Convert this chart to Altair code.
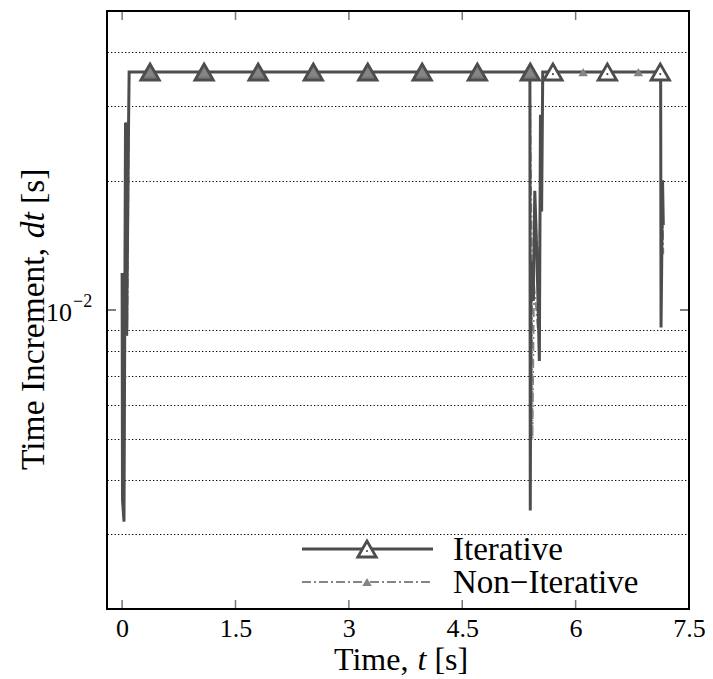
import altair as alt
import pandas as pd
import numpy as np

# ---------------- data ----------------
iter_t = [0.0, 0.005, 0.025, 0.045, 0.06, 0.085, 0.093, 5.395, 5.40, 5.41, 5.44, 5.46,
          5.49, 5.52, 5.535, 5.55, 5.565, 7.125, 7.13, 7.14, 7.15, 7.16]
iter_dt = [0.0122, 0.0036, 0.0032, 0.0274, 0.0087, 0.027, 0.036, 0.036, 0.0034, 0.013,
           0.0105, 0.019, 0.013, 0.0076, 0.0286, 0.017, 0.036, 0.036, 0.0091, 0.0134,
           0.0201, 0.0158]

non_t = [0.0, 0.01, 0.03, 0.05, 0.07, 0.088, 0.093, 5.395, 5.42, 5.43, 5.45, 5.50,
         5.54, 5.565, 7.125, 7.135, 7.15, 7.16]
non_dt = [0.011, 0.0033, 0.0095, 0.0275, 0.009, 0.026, 0.036, 0.036, 0.0136, 0.0050,
          0.0115, 0.009, 0.022, 0.036, 0.036, 0.011, 0.019, 0.0135]

iter_mark_t = [0.37, 1.085, 1.80, 2.53, 3.25, 3.97, 4.70, 5.40, 5.70, 6.42, 7.12]
iter_mark_dt = [0.036, 0.036, 0.036, 0.036, 0.036, 0.036, 0.036, 0.036, 0.036, 0.036, 0.036]
non_mark_t = [0.37, 1.085, 1.80, 2.53, 3.25, 3.97, 4.70, 5.40, 6.10, 6.83]
non_mark_dt = [0.036, 0.036, 0.036, 0.036, 0.036, 0.036, 0.036, 0.036, 0.036, 0.036]

x_ticks = [0, 1.5, 3, 4.5, 6, 7.5]
y_major = [0.01]
y_minor = [0.003, 0.004, 0.005, 0.006, 0.007, 0.008, 0.009, 0.02, 0.03, 0.04]

# ---------------- styling ----------------
W, H = 582, 598
FONT = "Liberation Serif"
DARK = "#4d4d4d"
LIGHT = "#858585"

xs = alt.Scale(domain=[-0.2, 7.5], nice=False, zero=False)
ys = alt.Scale(type="log", domain=[0.002, 0.05], nice=False)

iter_df = pd.DataFrame({"t": iter_t, "dt": iter_dt, "o": range(len(iter_t))})
non_df = pd.DataFrame({"t": non_t, "dt": non_dt, "o": range(len(non_t))})
im_df = pd.DataFrame({"t": iter_mark_t, "dt": iter_mark_dt})
im_df["fill"] = np.where(np.isin(iter_mark_t, non_mark_t), "#7a7a7a", "white")
nm_df = pd.DataFrame({"t": non_mark_t, "dt": non_mark_dt})
one = pd.DataFrame({"a": [0]})

X = alt.X("t:Q", scale=xs,
          axis=alt.Axis(values=x_ticks, format="~g", title=None, ticks=False, domain=False,
                        grid=False, labelFont=FONT, labelFontSize=26, labelColor="black",
                        labelPadding=6, labelFlush=False))
Y = alt.Y("dt:Q", scale=ys,
          axis=alt.Axis(values=y_minor, title=None, labels=False, ticks=False, domain=False,
                        grid=True, gridColor="black", gridDash=[1.3, 2.2], gridWidth=1.2,
                        gridOpacity=1))

non_line = alt.Chart(non_df).mark_line(color=LIGHT, strokeWidth=1.8,
                                       strokeDash=[9, 3, 2, 3]).encode(x=X, y=Y, order="o:Q")
iter_line = alt.Chart(iter_df).mark_line(color=DARK, strokeWidth=3).encode(
    x=alt.X("t:Q", scale=xs), y=alt.Y("dt:Q", scale=ys), order="o:Q")

iter_marks = alt.Chart(im_df).mark_point(shape="triangle-up", size=340, strokeWidth=2.8,
                                         stroke=DARK, opacity=1, filled=False).encode(
    x=alt.X("t:Q", scale=xs), y=alt.Y("dt:Q", scale=ys),
    fill=alt.Fill("fill:N", scale=None))
iter_dots = alt.Chart(im_df[im_df["fill"] == "white"]).mark_point(
    shape="circle", size=5, filled=True, color=DARK, opacity=1).encode(
    x=alt.X("t:Q", scale=xs), y=alt.Y("dt:Q", scale=ys), yOffset=alt.value(2))
non_marks = alt.Chart(nm_df).mark_point(shape="triangle-up", size=90, filled=True,
                                        color=LIGHT, opacity=1).encode(
    x=alt.X("t:Q", scale=xs), y=alt.Y("dt:Q", scale=ys))

# inward ticks (frame ticks)
xt_df = pd.DataFrame({"t": x_ticks[:-1]})
tick_bottom = alt.Chart(xt_df).mark_rule(color="#777777", strokeWidth=1.5).encode(
    x=alt.X("t:Q", scale=xs), y=alt.value(H), y2=alt.value(H - 9))
tick_top = alt.Chart(xt_df).mark_rule(color="#777777", strokeWidth=1.5).encode(
    x=alt.X("t:Q", scale=xs), y=alt.value(0), y2=alt.value(9))
yt_df = pd.DataFrame({"dt": y_major})
tick_left = alt.Chart(yt_df).mark_rule(color="#555555", strokeWidth=1.5).encode(
    y=alt.Y("dt:Q", scale=ys), x=alt.value(0), x2=alt.value(9))
tick_right = alt.Chart(yt_df).mark_rule(color="#555555", strokeWidth=1.5).encode(
    y=alt.Y("dt:Q", scale=ys), x=alt.value(W - 9), x2=alt.value(W))

# frame
frame = alt.Chart(one).mark_rect(fill=None, stroke="black", strokeWidth=2).encode(
    x=alt.value(0), x2=alt.value(W), y=alt.value(0), y2=alt.value(H))

# y tick label 10^-2
lab10 = alt.Chart(yt_df).mark_text(font=FONT, fontSize=26, align="right", baseline="middle",
                                   dy=3, color="black").encode(
    y=alt.Y("dt:Q", scale=ys), x=alt.value(-35), text=alt.value("10"))
labexp = alt.Chart(yt_df).mark_text(font=FONT, fontSize=18, align="left", baseline="middle",
                                    dy=-8, color="black").encode(
    y=alt.Y("dt:Q", scale=ys), x=alt.value(-34), text=alt.value("\u22122"))

# axis titles with italic symbols
def txt(s, x, y, italic=False, angle=0, size=32, align="left", baseline="alphabetic"):
    kw = dict(font=FONT, fontSize=size, align=align, baseline=baseline, color="black")
    if italic:
        kw["fontStyle"] = "italic"
    if angle:
        kw["angle"] = angle
    return alt.Chart(one).mark_text(**kw).encode(x=alt.value(x), y=alt.value(y),
                                                 text=alt.value(s))

fs = 32
xt0 = 227
xb = 659
xtitle = [txt("Time,", xt0, xb, size=fs),
          txt("t", xt0 + 2.611 * fs, xb, italic=True, size=fs),
          txt("[s]", xt0 + (2.611 + 0.278 + 0.25) * fs, xb, size=fs)]
fy = 33.5
yb = 459
yx = -73
ytitle = [txt("Time Increment,", yx, yb, angle=270, baseline="middle", size=fy),
          txt("dt", yx, yb - 6.915 * fy, italic=True, angle=270, baseline="middle", size=fy),
          txt("[s]", yx, yb - (6.915 + 0.778 + 0.25) * fy, angle=270, baseline="middle",
              size=fy)]

# legend
leg_l1 = alt.Chart(one).mark_rule(color=DARK, strokeWidth=3).encode(
    x=alt.value(195), x2=alt.value(326), y=alt.value(538))
leg_m1 = alt.Chart(one).mark_point(shape="triangle-up", size=340, strokeWidth=2.8, stroke=DARK,
                                   fill="white", opacity=1).encode(
    x=alt.value(260), y=alt.value(538))
leg_d1 = alt.Chart(one).mark_point(shape="circle", size=5, filled=True, color=DARK,
                                   opacity=1).encode(x=alt.value(260), y=alt.value(540))
leg_l2 = alt.Chart(one).mark_rule(color=LIGHT, strokeWidth=1.8, strokeDash=[9, 3, 2, 3]).encode(
    x=alt.value(195), x2=alt.value(326), y=alt.value(571))
leg_m2 = alt.Chart(one).mark_point(shape="triangle-up", size=90, filled=True, color=LIGHT,
                                   opacity=1).encode(x=alt.value(260), y=alt.value(571))
leg_t1 = txt("Iterative", 346, 539, baseline="middle", size=33)
leg_t2 = txt("Non\u2212Iterative", 346, 572, baseline="middle", size=33)

chart = alt.layer(
    non_line, iter_line, iter_marks, iter_dots, non_marks,
    tick_bottom, tick_top, tick_left, tick_right, frame, lab10, labexp,
    *xtitle, *ytitle,
    leg_l1, leg_m1, leg_d1, leg_l2, leg_m2, leg_t1, leg_t2,
).properties(
    width=W, height=H,
    autosize=alt.AutoSizeParams(type="none"),
    padding={"left": 99, "top": 3, "right": 16, "bottom": 70},
).configure_view(stroke=None).configure(background="white")

chart.save("out.html", embed_options={"renderer": "svg", "actions": False})
